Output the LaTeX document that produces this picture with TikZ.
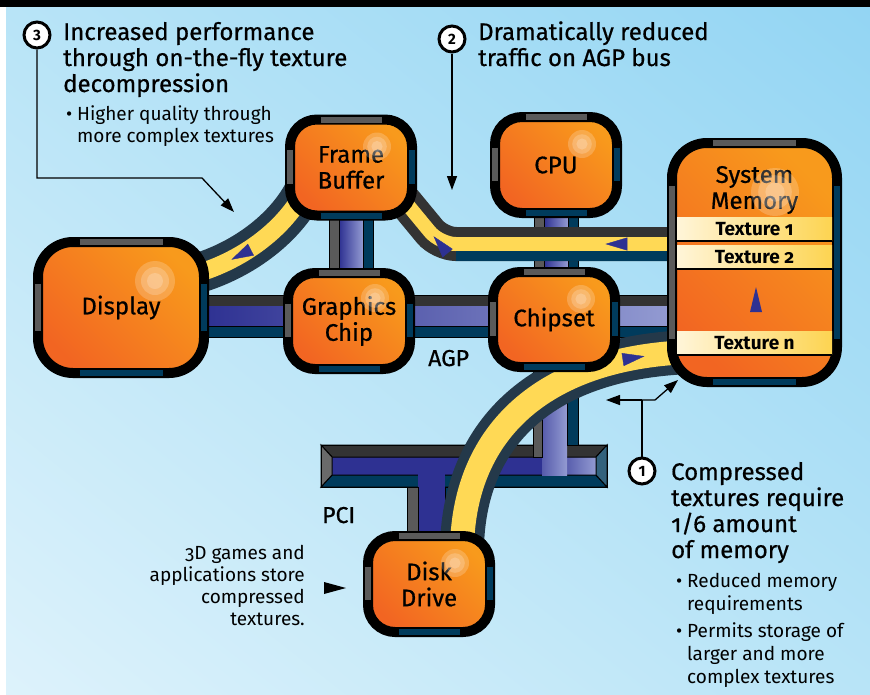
\documentclass[tikz,border=0pt]{standalone}
\usepackage{fontspec}
\setmainfont{Fira Sans}[Numbers=OldStyle]
\newfontfamily\medfont{Fira Sans}[Numbers=OldStyle,FakeBold=0.6]
\usetikzlibrary{calc,backgrounds,shadings,arrows.meta,decorations.markings}
\definecolor{skylight}{HTML}{DDF2FB}
\definecolor{skymid}{HTML}{B8E4F7}
\definecolor{skydark}{HTML}{93D5F3}
\definecolor{orangelite}{HTML}{F89A1C}
\definecolor{orangedark}{HTML}{F26522}
\definecolor{bargray}{HTML}{5A5A5A}
\definecolor{barteal}{HTML}{003B5C}
\definecolor{busdark}{HTML}{333333}
\definecolor{busblue}{HTML}{2E3192}
\definecolor{buslight}{HTML}{939BD2}
\definecolor{busteal}{HTML}{003B5C}
\definecolor{bevelgray}{HTML}{6A6A6A}
\definecolor{pipeyellow}{HTML}{FFD955}
\definecolor{pipeedge}{HTML}{24394A}
\definecolor{flowblue}{HTML}{2E3192}
\definecolor{bandcream}{HTML}{FFF5D9}
\definecolor{bandyellow}{HTML}{FDD451}

\begin{document}
\begin{tikzpicture}[x=1pt,y=-1pt,
  unit/.style={draw=black,line width=10pt,rounded corners=27pt,outer sep=0pt,
    top color=orangelite,bottom color=orangedark,shading angle=-45,
    minimum width=122pt,minimum height=96pt,align=center,
    font=\medfont\fontsize{24}{26}\selectfont},
  bigunit/.style={unit,rounded corners=35pt},
  graybar/.style={line width=6pt,draw=bargray},
  tealbar/.style={line width=6pt,draw=barteal},
  busline/.style={draw=black,line width=1pt},
  pipe/.style={line width=10pt,draw=pipeedge,double=pipeyellow,double distance=24pt},
  flowtip/.tip={Triangle[length=22pt,width=13pt,color=flowblue]},
  flow/.style={postaction={decorate,decoration={markings,mark=at position #1 with {\arrow{flowtip}}}}},
  callout/.style={draw=black,line width=1.3pt,-{Triangle[length=14pt,width=10pt]}},
  heading/.style={align=left,anchor=base west,inner sep=0pt,font=\medfont\fontsize{24}{26}\selectfont},
  note/.style={align=left,anchor=base west,inner sep=0pt,font=\fontsize{19}{23}\selectfont},
  num/.style={circle,draw,line width=3pt,fill=white,minimum size=26pt,inner sep=0pt,
    font=\fontsize{15}{15}\selectfont\bfseries\addfontfeatures{Numbers=Lining}},
  tag/.style={anchor=base west,inner sep=0pt,font=\medfont\fontsize{23}{23}\selectfont},
  band/.style={left color=bandcream,right color=bandyellow},
  bandtext/.style={font=\bfseries\fontsize{19}{19}\selectfont}]
\useasboundingbox (0,0) rectangle (870,694);

\node[unit] (fb) at (351,167.5) {Frame\\Buffer};
\node[unit] (cpu) at (556,165) {CPU};
\node[unit] (gfx) at (349,321) {Graphics\\Chip};
\node[unit,minimum height=95pt] (chip) at (554,319.5) {Chipset};
\node[unit] (disk) at (429,584) {Disk\\Drive};
\node[bigunit,minimum width=166pt,minimum height=131pt] (disp) at (121,307.5) {Display};
\node[bigunit,minimum width=165pt,minimum height=239pt] (mem) at (754.5,262.5) {};
\node[font=\medfont\fontsize{24}{26}\selectfont,align=center] (memname) at (754.5,190) {System\\Memory};

\foreach \n/\va/\vb/\hx/\hy/\hr in {fb/.32/.67/-35/27/14,cpu/.32/.67/-35/27/14,gfx/.32/.67/-35/25/14,
    chip/.32/.67/-34/27/14,disk/.32/.67/-35/27/14,disp/.32/.68/-49/39/20,mem/.18/.82/-62/49/24}{
  \draw[graybar] ($(\n.north west)!.25!(\n.north east)$) -- ($(\n.north west)!.75!(\n.north east)$)
    ($(\n.north west)!\va!(\n.south west)$) -- ($(\n.north west)!\vb!(\n.south west)$);
  \draw[tealbar] ($(\n.south west)!.25!(\n.south east)$) -- ($(\n.south west)!.75!(\n.south east)$)
    ($(\n.north east)!\va!(\n.south east)$) -- ($(\n.north east)!\vb!(\n.south east)$);
  \foreach \k in {1,.7,.4}
    \fill[white,opacity=.2] ($(\n.north east)+(\hx,\hy)$) circle (\k*\hr);
}

\foreach \t/\y in {1/217,2/245,n/331}{
  \shade[band] (677,\y) rectangle (832,\y+23);
  \draw[line width=2.5pt] (677,\y+24) -- (832,\y+24);
  \node[bandtext] (tex\t) at (754.5,\y+12) {Texture \t};
}
\fill[flowblue] (750,312) -- (756,287) -- (762,312) -- cycle;

\begin{scope}[on background layer]
  \fill[white] (0,0) rectangle (870,694);
  \shade[lower left=skylight,upper right=skydark,upper left=skymid,lower right=skymid] (6,7) rectangle (870,694);
  \fill[black] (0,0) rectangle (870,7);

  \coordinate (hbus) at (0,316);
  \draw[busline,fill=busdark] ($(disp.east |- hbus)+(0,-21)$) rectangle ($(mem.west |- hbus)+(0,-10)$);
  \shade[left color=busblue,right color=buslight] ($(disp.east |- hbus)+(0,-10)$) rectangle ($(mem.west |- hbus)+(0,10)$);
  \draw[busline,fill=busteal] ($(disp.east |- hbus)+(0,10)$) rectangle ($(mem.west |- hbus)+(0,21)$);

  \foreach \a/\b in {fb/gfx,cpu/chip}{
    \shade[left color=busblue,right color=buslight] ($(\a.south)+(-12,0)$) rectangle ($(\a.south |- \b.north)+(12,0)$);
    \draw[busline,fill=bargray] ($(\a.south)+(-22,0)$) rectangle ($(\a.south |- \b.north)+(-12,0)$);
    \draw[busline,fill=busteal] ($(\a.south)+(12,0)$) rectangle ($(\a.south |- \b.north)+(22,0)$);
  }

  \coordinate (pci) at (464,466);
  \begin{scope}[shift={(pci)}]
    \fill[busblue] (-143,-21) rectangle (143,21);
    \shade[left color=busblue,right color=buslight] (81,-9) rectangle (132,9);
    \draw[busline,fill=busdark] (-143,-21) -- (143,-21) -- (132,-9) -- (-132,-9) -- cycle;
    \draw[busline,fill=busteal] (-143,21) -- (143,21) -- (132,9) -- (-132,9) -- cycle;
    \draw[busline,fill=bevelgray] (-143,-21) -- (-132,-9) -- (-132,9) -- (-143,21) -- cycle;
    \draw[busline,fill=busteal!80!white] (143,-21) -- (132,-9) -- (132,9) -- (143,21) -- cycle;
    \draw[busline] (-143,-21) rectangle (143,21);
    \fill[busblue] (-46,0) rectangle (-19,0 |- disk.north);
    \draw[busline,fill=bargray] (-57,21) rectangle (-46,0 |- disk.north);
    \draw[busline,fill=busteal] (-19,21) rectangle (-9,0 |- disk.north);
  \end{scope}
  \shade[left color=busblue!60!buslight,right color=buslight] ($(chip.south)+(-12,0)$) rectangle ($(chip.south |- pci)+(13,9)$);
  \draw[busline,fill=bargray] ($(chip.south)+(-21,0)$) rectangle ($(chip.south |- pci)+(-12,-9)$);
  \draw[busline,fill=busteal] ($(chip.south)+(13,0)$) rectangle ($(chip.south |- pci)+(24,-21)$);

  \coordinate (agp) at (440,244);
  \draw[pipe,draw=busdark,double distance=14pt,rounded corners=16pt] (mem.west |- agp) -- (agp) -- ($(fb.south east)+(-17,-26)$);
  \draw[line width=10pt,busteal] ($(mem.west |- agp)+(0,12)$) -- ($(agp)+(16,12)$);
  \path[flow=.22,flow=.8] (mem.west |- agp) -- (agp) -- ($(fb.south east)+(-17,-26)$);

  \draw[pipe,line width=11pt,double distance=18pt] ($(fb.west)+(15,22)$) .. controls +(-20,40) and +(50,-13) .. ($(disp.east)+(-14,-32)$);
  \path[flow=.7] ($(fb.west)+(15,22)$) .. controls +(-20,40) and +(50,-13) .. ($(disp.east)+(-14,-32)$);

  \draw[pipe] ($(disk.north)+(33,10)$) .. controls +(3,-116) and +(-135,8) .. ($(mem.west)+(8,90)$);
  \path[flow=.89] ($(disk.north)+(33,10)$) .. controls +(3,-116) and +(-135,8) .. ($(mem.west)+(8,90)$);
\end{scope}

\node[num] (n3) at (37,35) {3};
\node[heading] (t3) at (63,92) {Increased performance\\through on-the-fly texture\\decompression};
\node[note,font=\fontsize{19}{22}\selectfont] (b3) at (77,142) {\llap{\textbullet\ }Higher quality through\\more complex textures};
\coordinate (c3) at (234,212);
\draw[callout] (n3) |- ($(c3)+(-32,-34)$) -- (c3);

\node[num] (n2) at (452,39) {2};
\node[heading] (t2) at (478,66) {Dramatically reduced\\traffic on AGP bus};
\coordinate (c2) at (452,190);
\draw[callout] (n2) -- (c2);

\node[num] (n1) at (642,471) {1};
\node[heading] (t1) at (671,558) {Compressed\\textures require\\1/6 amount\\of memory};
\node[note] (b1) at (687,610) {\llap{\textbullet\ }Reduced memory\\requirements};
\node[note] (b2) at (687,683) {\llap{\textbullet\ }Permits storage of\\larger and more\\complex textures};
\coordinate (c1) at (642,400);
\draw[line width=1.3pt] (n1) -- (c1);
\draw[callout] (c1) -- +(-36,0);
\draw[callout] (c1) -- +(13,0) -- +(36,-20);

\node[tag] (agplabel) at (428,366) {AGP};
\node[tag] (pcilabel) at (322,523) {PCI};
\node[note,font=\fontsize{19}{22}\selectfont,align=right,anchor=base east] (games) at (305,625) {3D games and\\applications store\\compressed\\textures.};
\fill (324,582) -- (346,588) -- (324,594) -- cycle;
\end{tikzpicture}
\end{document}
